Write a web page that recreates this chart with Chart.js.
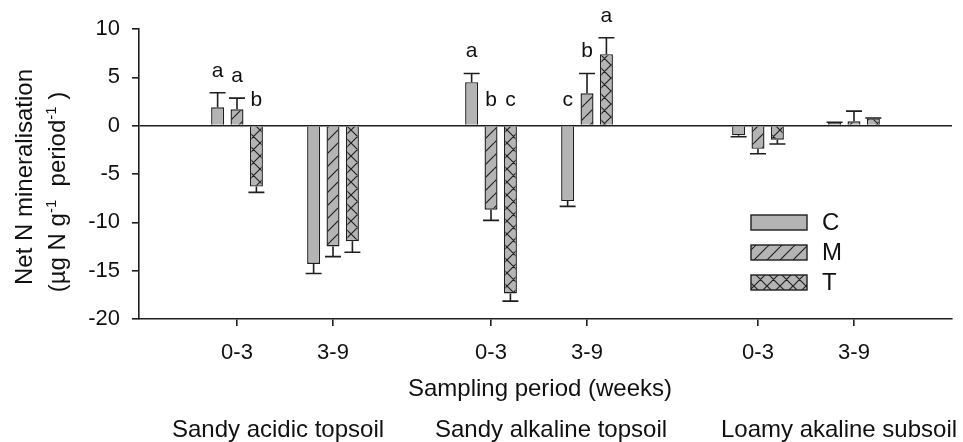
<!DOCTYPE html>
<html><head><meta charset="utf-8">
<script src="https://cdn.jsdelivr.net/npm/chart.js@4.4.0/dist/chart.umd.min.js"></script>
<style>html,body{margin:0;padding:0;background:#fff;}#wrap{width:963px;height:442px;}</style>
</head><body><div id="wrap"><canvas id="c" width="963" height="442"></canvas></div>
<script>
// ---------- data ----------
const periods = ['0-3', '3-9', '0-3', '3-9', '0-3', '3-9'];
const soils = ['Sandy acidic topsoil', 'Sandy alkaline topsoil', 'Loamy akaline subsoil'];
const treatments = ['C', 'M', 'T'];
const valuesC = [1.9, -14.3, 4.5, -7.8, -1.0, 0.3];
const errC    = [1.5, 1.0, 0.9, 0.55, 0.15, 0.05];
const lettersC = ['a', '', 'a', 'c', '', ''];
const valuesM = [1.7, -12.5, -8.7, 3.35, -2.4, 0.45];
const errM    = [1.15, 1.05, 1.1, 2.05, 0.5, 1.05];
const lettersM = ['a', '', 'b', 'b', '', ''];
const valuesT = [-6.3, -11.95, -17.35, 7.4, -1.45, 0.75];
const errT    = [0.6, 1.15, 0.8, 1.7, 0.45, 0.05];
const lettersT = ['b', '', 'c', 'a', '', ''];
const yTicks = [10, 5, 0, -5, -10, -15, -20];

// ---------- layout / style ----------
const slotX = [0, 1, 2.646, 3.646, 5.427, 6.427];   // spacing of sampling periods along the axis
const FONT = '"Liberation Sans", Arial, Helvetica, sans-serif';
const INK = '#111';
const LINE = '#1e1e1e';
const GRAY = '#b4b4b4';

function pattern(kind) {
  if (kind === 'solid') return GRAY;
  const s = 13;
  const c = document.createElement('canvas'); c.width = s; c.height = s;
  const g = c.getContext('2d');
  g.fillStyle = GRAY; g.fillRect(0, 0, s, s);
  g.strokeStyle = '#222'; g.lineWidth = 1.2;
  g.beginPath();
  for (const k of [-s, 0, s]) {
    g.moveTo(k, s); g.lineTo(k + s, 0);
    if (kind === 'cross') { g.moveTo(k, 0); g.lineTo(k + s, s); }
  }
  g.stroke();
  return g.createPattern(c, 'repeat');
}

const seriesVals = [valuesC, valuesM, valuesT];
const seriesErr = [errC, errM, errT];
const seriesLetters = [lettersC, lettersM, lettersT];
const fills = [pattern('solid'), pattern('slash'), pattern('cross')];

const datasets = treatments.map((t, i) => ({
  label: t,
  data: seriesVals[i].map((v, j) => ({ x: slotX[j], y: v })),
  backgroundColor: fills[i],
  borderColor: LINE,
  borderWidth: 1.4,
  categoryPercentage: 0.606,
  barPercentage: 0.67
}));

const extras = {
  id: 'extras',
  afterDatasetsDraw(chart) {
    const ctx = chart.ctx, ys = chart.scales.y;
    ctx.save();
    ctx.strokeStyle = LINE; ctx.lineWidth = 1.6;
    chart.data.datasets.forEach((ds, di) => {
      const meta = chart.getDatasetMeta(di);
      meta.data.forEach((el, j) => {
        const v = seriesVals[di][j], e = seriesErr[di][j];
        const end = v + (v >= 0 ? e : -e);
        const y1 = ys.getPixelForValue(end);
        const w = el.width + 3;
        ctx.beginPath();
        ctx.moveTo(el.x, el.y); ctx.lineTo(el.x, y1);
        ctx.moveTo(el.x - w / 2, y1); ctx.lineTo(el.x + w / 2, y1);
        ctx.stroke();
        const L = seriesLetters[di][j];
        if (L) {
          ctx.fillStyle = INK; ctx.font = '21px ' + FONT;
          ctx.textAlign = 'center'; ctx.textBaseline = 'alphabetic';
          const ly = v >= 0 ? y1 - 16 : ys.getPixelForValue(0) - 20;
          ctx.fillText(L, el.x, ly);
        }
      });
    });
    ctx.restore();
  },
  afterDraw(chart) {
    const ctx = chart.ctx;
    ctx.save();
    ctx.fillStyle = INK;
    // x axis title & soil labels
    ctx.font = '24px ' + FONT; ctx.textAlign = 'center'; ctx.textBaseline = 'alphabetic';
    ctx.fillText('Sampling period (weeks)', 540, 396);
    const soilCx = [278, 551, 839];
    soils.forEach((s, i) => ctx.fillText(s, soilCx[i], 437));
    // y axis title (rotated, with superscripts)
    function rich(segs, bx, cy) {
      ctx.save();
      ctx.translate(bx, cy); ctx.rotate(-Math.PI / 2);
      let total = 0;
      segs.forEach(s => { ctx.font = (s.sup ? 15 : 24) + 'px ' + FONT; s.w = ctx.measureText(s.t).width; total += s.w; });
      let x = -total / 2;
      ctx.textAlign = 'left'; ctx.textBaseline = 'alphabetic';
      segs.forEach(s => { ctx.font = (s.sup ? 15 : 24) + 'px ' + FONT; ctx.fillText(s.t, x, s.sup ? -9 : 0); x += s.w; });
      ctx.restore();
    }
    rich([{ t: 'Net N mineralisation' }], 32, 177);
    rich([{ t: '(\u00b5g N g' }, { t: '-1', sup: true }, { t: '  period' }, { t: '-1', sup: true }, { t: ' )' }], 65, 192);
    // legend
    const lx = 751, ly0 = 215, bw = 56, bh = 15, gap = 30;
    chart.data.datasets.forEach((ds, i) => {
      const y = ly0 + i * gap;
      ctx.fillStyle = ds.backgroundColor; ctx.fillRect(lx, y, bw, bh);
      ctx.strokeStyle = LINE; ctx.lineWidth = 1.4; ctx.strokeRect(lx, y, bw, bh);
      ctx.fillStyle = INK; ctx.font = '24px ' + FONT; ctx.textAlign = 'left'; ctx.textBaseline = 'middle';
      ctx.fillText(ds.label, lx + 71, y + bh / 2 + 1);
    });
    ctx.restore();
  }
};

new Chart(document.getElementById('c'), {
  type: 'bar',
  data: { datasets },
  options: {
    responsive: false, animation: false, devicePixelRatio: 1,
    layout: { padding: { top: 29, right: 11, left: 0, bottom: 0 } },
    plugins: { legend: { display: false }, tooltip: { enabled: false } },
    scales: {
      x: {
        type: 'linear', min: -1.021, max: 7.448, offset: false,
        afterBuildTicks: s => { s.ticks = slotX.map(v => ({ value: v })); },
        ticks: { callback: (v, i) => periods[i], font: { family: FONT, size: 22 }, color: INK, padding: 14, maxRotation: 0, autoSkip: false },
        grid: { offset: false, color: 'transparent', tickColor: LINE, tickLength: 7, lineWidth: 1.6 },
        border: { color: LINE, width: 1.6 },
        afterFit: s => { s.height = 123; }
      },
      y: {
        min: -20, max: 10,
        afterBuildTicks: s => { s.ticks = yTicks.map(v => ({ value: v })); },
        ticks: { callback: v => String(v), font: { family: FONT, size: 22 }, color: INK, padding: 12 },
        grid: { offset: false, color: c => (c.tick && c.tick.value === 0) ? LINE : 'transparent', tickColor: LINE, tickLength: 7, lineWidth: 1.6 },
        border: { color: LINE, width: 1.6 },
        afterFit: s => { s.width = 139; }
      }
    }
  },
  plugins: [extras]
});
</script></body></html>
